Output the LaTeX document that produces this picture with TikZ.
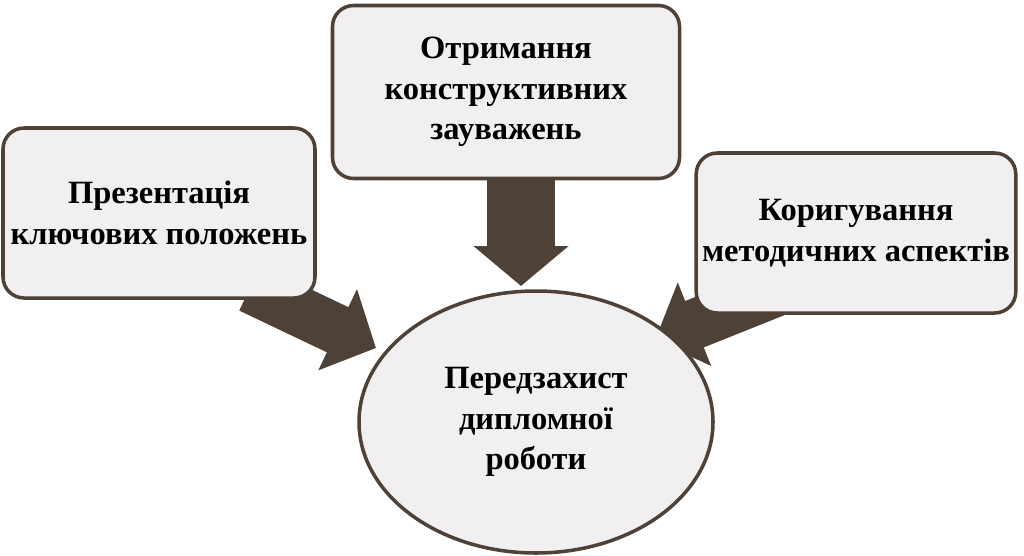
\documentclass[tikz,border=0pt]{standalone}
\usepackage{fontspec}
\setmainfont{Liberation Serif}
\usetikzlibrary{arrows.meta}
\usetikzlibrary{shapes.geometric}
\definecolor{boxfill}{HTML}{F1EFEF}
\definecolor{brownline}{HTML}{4E4137}

\begin{document}
\begin{tikzpicture}[x=0.02cm,y=-0.02cm]
    \tikzstyle{box}=[draw=brownline,line width=2pt,fill=boxfill,rounded corners=12pt,align=center,font=\fontsize{18.5}{23}\selectfont\bfseries]
    \tikzstyle{goal}=[ellipse,draw=brownline,line width=2pt,fill=boxfill,align=center,font=\fontsize{18.5}{23}\selectfont\bfseries,inner sep=0pt]
    \tikzstyle{blockarrow}=[draw=brownline,-{Triangle[length=0.85cm,width=1.75cm]}]

    \useasboundingbox (0,0) rectangle (1024,555);

    \coordinate (a1) at (250,288);
    \coordinate (t1) at (376,348);
    \coordinate (a2) at (521,175);
    \coordinate (t2) at (521,286);
    \coordinate (a3) at (800,282);
    \coordinate (t3) at (655,340);

    \path[blockarrow,line width=1.0cm] (a1) -- (t1);
    \path[blockarrow,line width=1.36cm,-{Triangle[length=0.8cm,width=1.86cm]}] (a2) -- (t2);
    \path[blockarrow,line width=1.0cm] (a3) -- (t3);

    \node[box,minimum width=312*0.02cm,minimum height=170*0.02cm] (pres) at (159,213) {Презентація\\ключових положень};
    \node[box,minimum width=347*0.02cm,minimum height=173*0.02cm] (feed) at (506,92) {Отримання\\конструктивних\\зауважень};
    \node[box,minimum width=319*0.02cm,minimum height=160*0.02cm] (corr) at (856,233) {Коригування\\методичних аспектів};
    \node[goal,minimum width=354*0.02cm,minimum height=262*0.02cm] (goal) at (536,422) {Передзахист\\дипломної\\роботи};
\end{tikzpicture}
\end{document}
